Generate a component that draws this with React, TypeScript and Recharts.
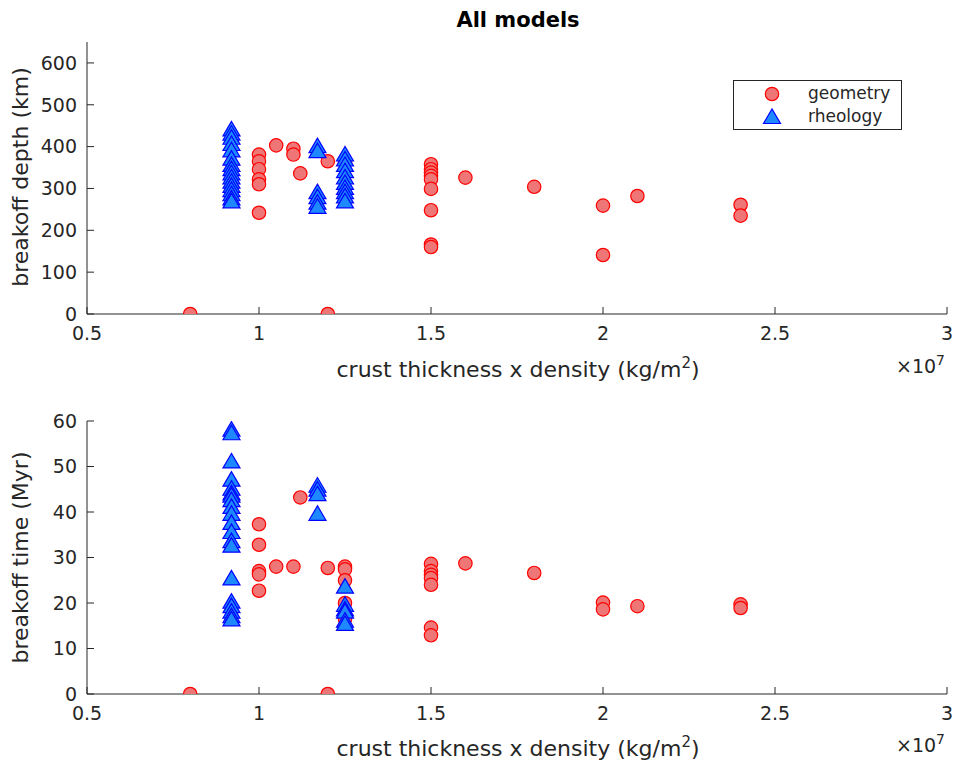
import React from 'react';
import { ScatterChart, Scatter, XAxis, YAxis, Legend } from 'recharts';

const FONT = 'DejaVu Sans, sans-serif';
const INK = '#262626';

const xTicks = [0.5, 1, 1.5, 2, 2.5, 3];
const depthTicks = [0, 100, 200, 300, 400, 500, 600];
const timeTicks = [0, 10, 20, 30, 40, 50, 60];

// breakoff depth (km) – geometry models
const depthGeoX = [0.8, 1, 1, 1, 1, 1, 1, 1.05, 1.1, 1.1, 1.12, 1.2, 1.2, 1.25, 1.5, 1.5, 1.5, 1.5, 1.5, 1.5, 1.5, 1.5, 1.5, 1.6, 1.8, 2, 2, 2.1, 2.4, 2.4];
const depthGeoY = [0, 381, 365, 346, 322, 310, 242, 403, 395, 381, 336, 365, 0, 362, 358, 346, 338, 330, 322, 299, 248, 166, 160, 326, 304, 259, 141, 282, 261, 235];

// breakoff depth (km) – rheology models
const depthRheoX = [0.92, 0.92, 0.92, 0.92, 0.92, 0.92, 0.92, 0.92, 0.92, 0.92, 0.92, 0.92, 0.92, 0.92, 0.92, 0.92, 1.17, 1.17, 1.17, 1.17, 1.17, 1.17, 1.25, 1.25, 1.25, 1.25, 1.25, 1.25, 1.25, 1.25, 1.25, 1.25];
const depthRheoY = [440, 430, 420, 405, 390, 370, 355, 345, 335, 325, 315, 305, 295, 285, 275, 268, 400, 388, 290, 278, 265, 255, 380, 368, 355, 340, 325, 312, 300, 290, 280, 268];

// breakoff time (Myr) – geometry models
const timeGeoX = [0.8, 1, 1, 1, 1, 1, 1.05, 1.1, 1.12, 1.2, 1.2, 1.25, 1.25, 1.25, 1.25, 1.25, 1.5, 1.5, 1.5, 1.5, 1.5, 1.5, 1.5, 1.6, 1.8, 2, 2, 2.1, 2.4, 2.4];
const timeGeoY = [0, 37.3, 32.8, 27, 26.3, 22.7, 28, 28, 43.2, 27.7, 0, 28, 27.4, 25, 20, 16.5, 28.6, 27, 26.2, 25.5, 24, 14.6, 12.9, 28.7, 26.6, 20.1, 18.6, 19.3, 19.7, 18.9];

// breakoff time (Myr) – rheology models
const timeRheoX = [0.92, 0.92, 0.92, 0.92, 0.92, 0.92, 0.92, 0.92, 0.92, 0.92, 0.92, 0.92, 0.92, 0.92, 0.92, 0.92, 0.92, 0.92, 0.92, 0.92, 1.17, 1.17, 1.17, 1.17, 1.25, 1.25, 1.25, 1.25, 1.25, 1.25];
const timeRheoY = [58, 57.2, 51, 47, 45, 44, 43.5, 42.5, 41, 39.5, 37.5, 35.5, 33.5, 32.5, 25.3, 20.2, 19.2, 18, 17, 16.3, 45.7, 44.8, 43.8, 39.5, 23.5, 19.5, 18.5, 18, 16, 15.3];

const zip = (xs: number[], ys: number[]) => xs.map((x, i) => ({ x, y: ys[i] }));

const GEO_FILL = '#ef7676';
const GEO_STROKE = '#ff0000';
const RHEO_FILL = '#1e88ff';
const RHEO_STROKE = '#0000ff';

const GeoDot = (p: any) => (
  <circle cx={p.cx} cy={p.cy} r={6.7} fill={GEO_FILL} stroke={GEO_STROKE} strokeWidth={1.2} />
);

const RheoTri = (p: any) => {
  const { cx, cy } = p;
  return (
    <polygon
      points={`${cx},${cy - 8.5} ${cx - 8.5},${cy + 6} ${cx + 8.5},${cy + 6}`}
      fill={RHEO_FILL}
      stroke={RHEO_STROKE}
      strokeWidth={1.2}
    />
  );
};

const tickStyle = { fill: INK, fontSize: 19, fontFamily: FONT };

const LegendBox = () => (
  <div
    style={{
      width: 167,
      height: 48,
      border: `1px solid ${INK}`,
      background: '#fff',
      fontFamily: FONT,
      fontSize: 17,
      color: INK,
      position: 'relative',
    }}
  >
    <svg width={20} height={48} style={{ position: 'absolute', left: 28, top: 0 }}>
      <circle cx={10} cy={13} r={6.7} fill={GEO_FILL} stroke={GEO_STROKE} strokeWidth={1.2} />
      <polygon points="10,28 1.5,42.5 18.5,42.5" fill={RHEO_FILL} stroke={RHEO_STROKE} strokeWidth={1.2} />
    </svg>
    <div style={{ position: 'absolute', left: 74, top: 1, lineHeight: '23px' }}>geometry</div>
    <div style={{ position: 'absolute', left: 74, top: 24, lineHeight: '23px' }}>rheology</div>
  </div>
);

function Panel(props: {
  top: number;
  height: number;
  marginTop: number;
  marginBottom: number;
  yMax: number;
  yTicks: number[];
  geo: { x: number; y: number }[];
  rheo: { x: number; y: number }[];
  legend?: boolean;
}) {
  return (
    <div style={{ position: 'absolute', left: 0, top: props.top }}>
      <ScatterChart
        width={957}
        height={props.height}
        margin={{ top: props.marginTop, right: 10, bottom: props.marginBottom, left: 27 }}
      >
        <XAxis
          type="number"
          dataKey="x"
          domain={[0.5, 3]}
          ticks={xTicks}
          interval={0}
          allowDataOverflow
          stroke={INK}
          tickSize={-7}
          tickMargin={20}
          height={40}
          tick={tickStyle}
        />
        <YAxis
          type="number"
          dataKey="y"
          domain={[0, props.yMax]}
          ticks={props.yTicks}
          interval={0}
          allowDataOverflow
          stroke={INK}
          tickSize={-7}
          tickMargin={17}
          width={60}
          tick={tickStyle}
        />
        {props.legend && (
          <Legend
            layout="horizontal"
            verticalAlign="middle"
            align="center"
            content={() => <LegendBox />}
            wrapperStyle={{ position: 'absolute', left: 733, top: 80, width: 169, height: 50 }}
          />
        )}
        <Scatter name="geometry" data={props.geo} shape={GeoDot} isAnimationActive={false} />
        <Scatter name="rheology" data={props.rheo} shape={RheoTri} isAnimationActive={false} />
      </ScatterChart>
    </div>
  );
}

const XLabel = ({ y }: { y: number }) => (
  <>
    <text x={518} y={y} textAnchor="middle" fontSize={22} fontFamily={FONT} fill={INK}>
      crust thickness x density (kg/m
      <tspan dy={-9} fontSize={15}>2</tspan>
      <tspan dy={9}>)</tspan>
    </text>
    <text x={896} y={y - 3.5} fontSize={19} fontFamily={FONT} fill={INK}>
      ×10
      <tspan dy={-8} fontSize={14}>7</tspan>
    </text>
  </>
);

export default function App() {
  return (
    <div style={{ position: 'absolute', left: 0, top: 0, width: 957, height: 763, background: '#fff' }}>
      <Panel
        top={0}
        height={400}
        marginTop={42}
        marginBottom={46}
        yMax={650}
        yTicks={depthTicks}
        geo={zip(depthGeoX, depthGeoY)}
        rheo={zip(depthRheoX, depthRheoY)}
        legend
      />
      <Panel
        top={380}
        height={383}
        marginTop={41}
        marginBottom={29}
        yMax={60}
        yTicks={timeTicks}
        geo={zip(timeGeoX, timeGeoY)}
        rheo={zip(timeRheoX, timeRheoY)}
      />
      <svg
        width={957}
        height={763}
        style={{ position: 'absolute', left: 0, top: 0, pointerEvents: 'none' }}
      >
        <text x={518} y={27} textAnchor="middle" fontSize={21} fontWeight="bold" fontFamily={FONT} fill="#000">
          All models
        </text>
        <XLabel y={376.5} />
        <XLabel y={755.5} />
        <text
          transform="translate(28,177) rotate(-90)"
          textAnchor="middle"
          fontSize={22}
          fontFamily={FONT}
          fill={INK}
        >
          breakoff depth (km)
        </text>
        <text
          transform="translate(28,557.5) rotate(-90)"
          textAnchor="middle"
          fontSize={22}
          fontFamily={FONT}
          fill={INK}
        >
          breakoff time (Myr)
        </text>
      </svg>
    </div>
  );
}
